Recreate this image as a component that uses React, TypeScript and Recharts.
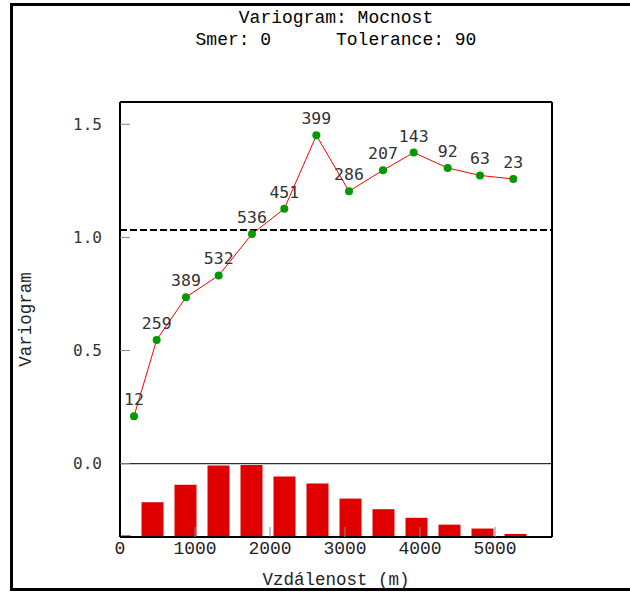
import {
  Bar,
  ComposedChart,
  Label,
  LabelList,
  Line,
  ReferenceLine,
  XAxis,
  YAxis,
} from "recharts";

// histogram of pair counts per lag class
const lagCenters = [0, 440, 880, 1320, 1760, 2200, 2640, 3080, 3520, 3960, 4400, 4840, 5280];
const pairCounts = [12, 259, 389, 532, 536, 451, 399, 286, 207, 143, 92, 63, 23];

// experimental variogram points
const meanDistances = [187, 489, 880, 1316, 1760, 2191, 2618, 3053, 3507, 3916, 4369, 4800, 5244];
const gammaValues = [0.21, 0.547, 0.736, 0.832, 1.015, 1.127, 1.451, 1.204, 1.297, 1.375, 1.307, 1.274, 1.258];

const sill = 1.033;
const distanceTicks = [0, 1000, 2000, 3000, 4000, 5000];
const topTicks = [1000, 2000, 3000, 4000, 5000];
const gammaTicks = [0, 0.5, 1, 1.5];

const bars = lagCenters.map((x, i) => ({ x, count: pairCounts[i] }));
const points = meanDistances.map((x, i) => ({ x, gamma: gammaValues[i], n: pairCounts[i] }));

const mono = "'Liberation Mono', monospace";
const sansMono = "'DejaVu Sans Mono', monospace";
const tickStroke = { stroke: "#888", strokeWidth: 1 };
const frameLine = { stroke: "#000", strokeWidth: 2 };

export default function App() {
  return (
    <div style={{ position: "absolute", left: 0, top: 0, width: 630, height: 592, background: "#fff" }}>
      <div
        style={{
          position: "absolute",
          left: 10,
          top: 3,
          width: 620,
          height: 588,
          boxSizing: "border-box",
          borderTop: "3px solid #000",
          borderLeft: "3px solid #000",
          borderBottom: "3px solid #000",
        }}
      />
      <svg width={630} height={60} style={{ position: "absolute", left: 0, top: 0 }}>
        <text x={336} y={23} textAnchor="middle" fontFamily={mono} fontSize={18} fill="#000">
          Variogram: Mocnost
        </text>
        <text x={336} y={45} textAnchor="middle" fontFamily={mono} fontSize={18} fill="#000" style={{ whiteSpace: "pre" }}>
          {"Smer: 0      Tolerance: 90"}
        </text>
      </svg>
      <div style={{ position: "absolute", left: 0, top: 0 }}>
        <ComposedChart
          width={630}
          height={592}
          data={bars}
          margin={{ top: 100, right: 76, left: 10, bottom: 0 }}
        >
          <XAxis
            xAxisId="b"
            dataKey="x"
            type="number"
            domain={[0, 5760]}
            allowDataOverflow
            ticks={distanceTicks}
            height={55}
            tickSize={-10}
            tickMargin={14}
            tickLine={tickStroke}
            axisLine={frameLine}
            tick={{ fontFamily: mono, fontSize: 18, fill: "#222" }}
          >
            <Label
              value="Vzdálenost (m)"
              position="insideBottom"
              offset={7}
              style={{ fontFamily: mono, fontSize: 17.5, fill: "#222" }}
            />
          </XAxis>
          <XAxis
            xAxisId="bx"
            dataKey="x"
            type="number"
            domain={[0, 5760]}
            allowDataOverflow
            height={0}
            hide
          />
          <XAxis
            xAxisId="t"
            orientation="top"
            type="number"
            domain={[0, 5760]}
            allowDataOverflow
            ticks={topTicks}
            height={2}
            tickSize={-10}
            tick={false}
            tickLine={tickStroke}
            axisLine={frameLine}
          />
          <YAxis
            yAxisId="g"
            type="number"
            domain={[-0.324, 1.5985]}
            allowDataOverflow
            ticks={gammaTicks}
            width={110}
            tickSize={-10}
            tickMargin={28}
            tickLine={tickStroke}
            axisLine={frameLine}
            tickFormatter={(v: number) => v.toFixed(1)}
            tick={{ fontFamily: sansMono, fontSize: 16, fill: "#333" }}
          >
            <Label
              value="Variogram"
              angle={-90}
              position="insideLeft"
              offset={15}
              style={{ fontFamily: mono, fontSize: 17.5, fill: "#222", textAnchor: "middle" }}
            />
          </YAxis>
          <YAxis
            yAxisId="r"
            orientation="right"
            type="number"
            domain={[-0.324, 1.5985]}
            allowDataOverflow
            ticks={gammaTicks}
            width={2}
            tickSize={-10}
            tick={false}
            tickLine={tickStroke}
            axisLine={frameLine}
          />
          <YAxis yAxisId="cnt" orientation="right" type="number" domain={[0, 3238]} width={0} hide />
          <Bar
            xAxisId="bx"
            yAxisId="cnt"
            dataKey="count"
            barSize={22}
            fill="#e00000"
            isAnimationActive={false}
          />
          <ReferenceLine xAxisId="b" yAxisId="g" y={0} stroke="#000" strokeWidth={1} />
          <ReferenceLine
            xAxisId="b"
            yAxisId="g"
            y={sill}
            stroke="#000"
            strokeWidth={2}
            strokeDasharray="7 3"
          />
          <Line
            xAxisId="b"
            yAxisId="g"
            data={points}
            dataKey="gamma"
            stroke="#ff0000"
            strokeWidth={1}
            dot={{ r: 4, fill: "#009a00", stroke: "none" }}
            activeDot={false}
            isAnimationActive={false}
          >
            <LabelList
              dataKey="n"
              position="top"
              offset={11}
              fill="#333"
              fontSize={16.5}
              fontFamily={sansMono}
            />
          </Line>
        </ComposedChart>
      </div>
    </div>
  );
}
